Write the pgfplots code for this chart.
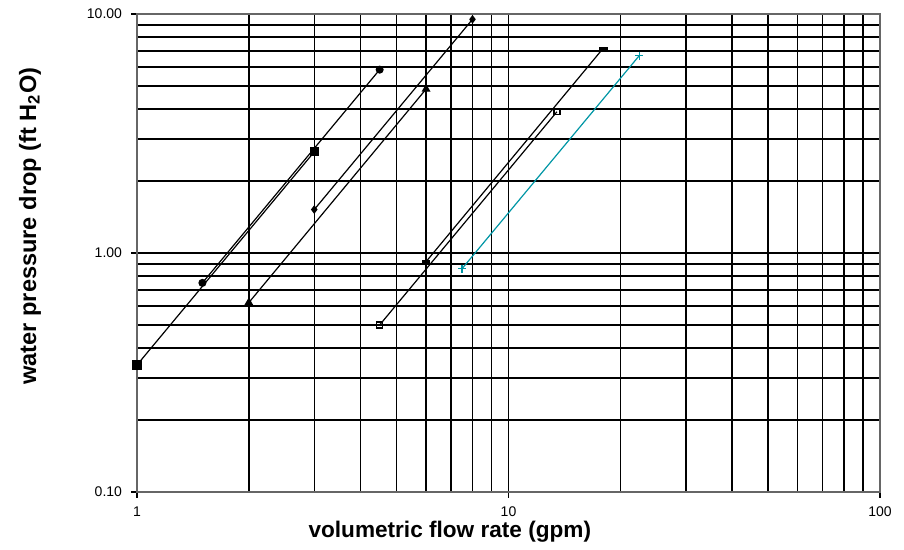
\documentclass[border=0pt]{standalone}
\usepackage{pgfplots}
\pgfplotsset{compat=1.18}
\usepackage{fontspec}
\setmainfont{Liberation Sans}
\definecolor{tealc}{RGB}{0,150,165}
\begin{document}
\begin{tikzpicture}
\begin{axis}[
  name=ax, at={(0,0)}, anchor=south west,
  scale only axis, width=371.5pt, height=239pt,
  xmode=log, ymode=log,
  xmin=1, xmax=100, ymin=0.1, ymax=10,
  xtick={1,10,100}, xticklabels={1,10,100},
  ytick={0.1,1,10}, yticklabels={0.10,1.00,10.00},
  xtick pos=left, ytick pos=left,
  grid=both,
  major grid style={black, line width=0.75pt},
  minor grid style={black, line width=0.75pt},
  axis line style={gray!80!black, line width=0.9pt},
  tick align=outside, major tick length=3pt, minor tick length=0pt,
  tick style={black, line width=0.6pt},
  ticklabel style={font=\fontsize{7}{8}\selectfont},
  xticklabel style={yshift=-1pt},
  yticklabel style={xshift=-1pt},
  xlabel={volumetric flow rate (gpm)},
  ylabel={water pressure drop (ft H\textsubscript{2}O)},
  xlabel style={font=\bfseries\fontsize{11.3}{13}\selectfont, at={(axis description cs:0.421,-0.0837)}, anchor=center},
  ylabel style={font=\bfseries\fontsize{11.8}{13}\selectfont, at={(axis description cs:-0.144,0.556)}, anchor=center},
  clip=false,
]
\addplot[black, line width=0.6pt, mark=square*, mark size=2pt] coordinates {(1,0.34) (3,2.65)};
\addplot[black, line width=0.6pt, mark=*, mark size=1.7pt] coordinates {(1.5,0.75) (4.5,5.85)};
\addplot[black, line width=0.6pt, mark=triangle*, mark size=2pt] coordinates {(2,0.62) (6,4.85)};
\addplot[black, line width=0.6pt, mark=diamond*, mark size=1.7pt] coordinates {(3,1.52) (8,9.5)};
\addplot[black, line width=0.6pt, mark=square, mark size=1.5pt, mark options={fill=white, line width=0.6pt}] coordinates {(4.5,0.5) (13.5,3.9)};
\addplot[black, line width=0.6pt, mark=-, mark size=2.2pt, mark options={line width=1.4pt}] coordinates {(6,0.92) (18,7.2)};
\addplot[tealc, line width=0.6pt, mark=+, mark size=2pt, mark options={line width=0.7pt}] coordinates {(7.5,0.86) (22.5,6.7)};
\end{axis}
\pgfresetboundingbox
\path (-68.5pt,-29pt) rectangle (383.5pt,246pt);
\end{tikzpicture}
\end{document}
